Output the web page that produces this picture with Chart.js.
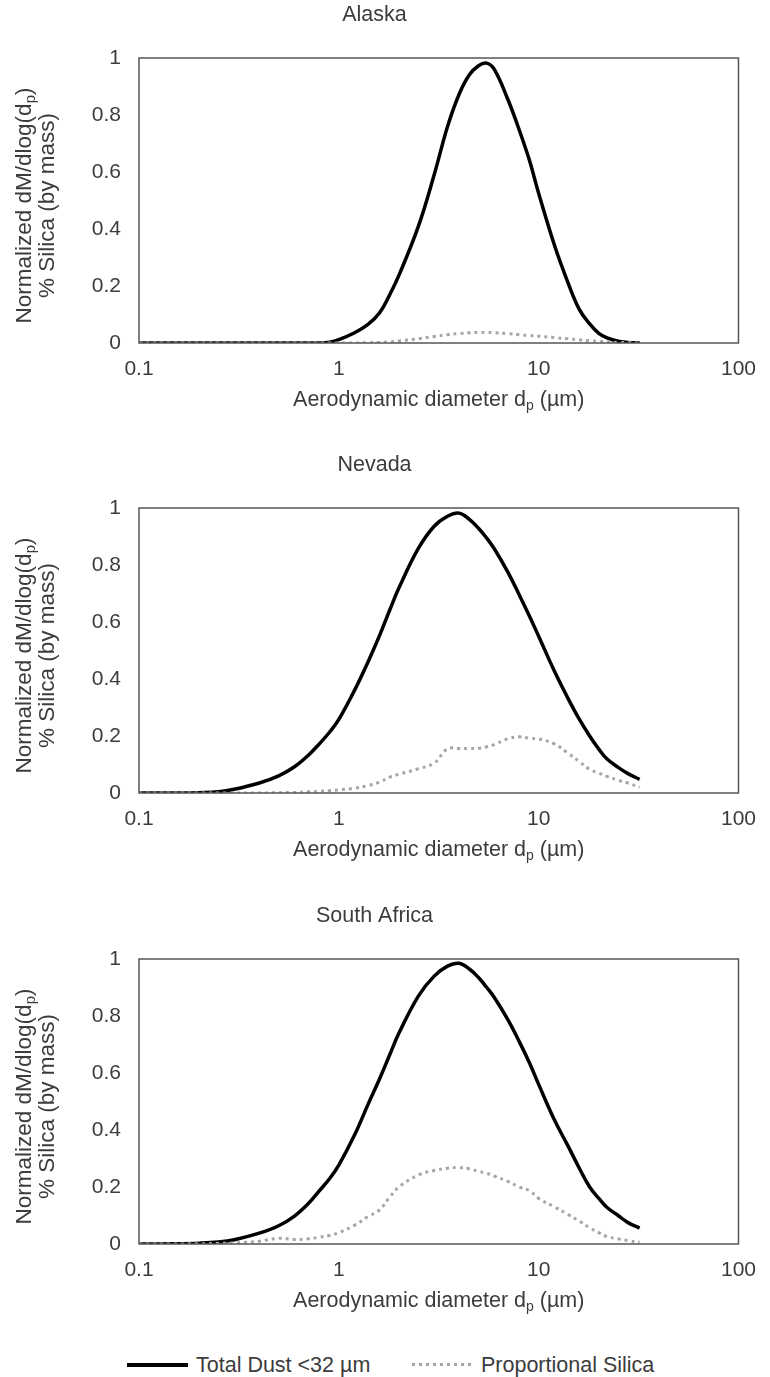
<!DOCTYPE html>
<html>
<head>
<meta charset="utf-8">
<script src="https://cdn.jsdelivr.net/npm/chart.js@4/dist/chart.umd.min.js"></script>
<style>
  body { margin: 0; background: #fff; }
  .panel { position: absolute; left: 0; }
  .legend { position: absolute; left: 0; top: 1352px; width: 770px; height: 26px;
            font: 21.5px "Liberation Sans", Arial, sans-serif; color: #3c3c3c; }
  .legend .key { position: absolute; top: 11px; width: 61px; height: 3.5px; }
  .legend .label { position: absolute; top: 0px; line-height: 26px; white-space: nowrap; }
  .solid { background: #000; }
  .dotted { background: repeating-linear-gradient(90deg, #a6a6a6 0 3px, transparent 3px 7px); height: 3px !important; }
</style>
</head>
<body>
<canvas id="alaska" class="panel" width="770" height="450" style="top:0px"></canvas>
<canvas id="nevada" class="panel" width="770" height="450" style="top:450px"></canvas>
<canvas id="southAfrica" class="panel" width="770" height="450" style="top:901px"></canvas>
<div class="legend">
  <div class="key solid" style="left:127px"></div>
  <div class="label" id="leg0" style="left:196px"></div>
  <div class="key dotted" style="left:412px"></div>
  <div class="label" id="leg1" style="left:481px"></div>
</div>
<script>
// aerodynamic diameter (µm)
const diameters = [0.1, 0.15, 0.2, 0.25, 0.3, 0.4, 0.5, 0.6, 0.7, 0.8, 0.9, 1.0,
  1.2, 1.4, 1.6, 1.8, 2.0, 2.5, 3.0, 3.5, 4.0, 4.5, 5.0, 5.5, 6.0, 7.0, 8.0, 9.0,
  10, 12, 14, 16, 18, 20, 22, 25, 28, 32];

const alaskaTotal = [0, 0, 0, 0, 0, 0, 0, 0, 0, 0, 0.003, 0.012,
  0.036, 0.065, 0.106, 0.17, 0.238, 0.409, 0.59, 0.76, 0.873, 0.941, 0.973, 0.982, 0.96, 0.856, 0.747, 0.64,
  0.525, 0.343, 0.213, 0.117, 0.067, 0.034, 0.018, 0.006, 0.002, 0];
const alaskaSilica = [0, 0, 0, 0, 0, 0, 0, 0, 0, 0, 0, 0,
  0, 0.001, 0.002, 0.004, 0.007, 0.015, 0.023, 0.029, 0.033, 0.036, 0.037, 0.037, 0.036, 0.033, 0.029, 0.026,
  0.024, 0.019, 0.015, 0.011, 0.008, 0.006, 0.004, 0.002, 0.001, 0];

const nevadaTotal = [0, 0, 0.001, 0.004, 0.013, 0.035, 0.06, 0.092, 0.131, 0.173, 0.214, 0.258,
  0.361, 0.46, 0.553, 0.643, 0.72, 0.858, 0.936, 0.971, 0.982, 0.96, 0.929, 0.894, 0.857, 0.776, 0.695, 0.62,
  0.55, 0.427, 0.333, 0.258, 0.2, 0.154, 0.119, 0.09, 0.068, 0.048];
const nevadaSilica = [0, 0, 0, 0, 0, 0, 0.001, 0.002, 0.004, 0.006, 0.008, 0.011,
  0.017, 0.026, 0.038, 0.056, 0.066, 0.085, 0.105, 0.155, 0.156, 0.156, 0.157, 0.162, 0.17, 0.19, 0.197, 0.192,
  0.19, 0.172, 0.14, 0.11, 0.083, 0.07, 0.058, 0.045, 0.035, 0.02];

const southAfricaTotal = [0, 0.001, 0.003, 0.007, 0.015, 0.038, 0.064, 0.098, 0.14, 0.187, 0.23, 0.277,
  0.383, 0.49, 0.58, 0.665, 0.74, 0.87, 0.94, 0.975, 0.985, 0.965, 0.935, 0.9, 0.865, 0.788, 0.71, 0.635,
  0.56, 0.435, 0.345, 0.265, 0.2, 0.16, 0.128, 0.1, 0.075, 0.056];
const southAfricaSilica = [0, 0, 0.001, 0.002, 0.004, 0.01, 0.02, 0.016, 0.018, 0.024, 0.03, 0.04,
  0.066, 0.096, 0.12, 0.165, 0.2, 0.242, 0.258, 0.266, 0.268, 0.264, 0.255, 0.248, 0.238, 0.22, 0.2, 0.187,
  0.16, 0.13, 0.104, 0.08, 0.057, 0.04, 0.026, 0.018, 0.012, 0.006];

const xTickValues = [0.1, 1, 10, 100];
const xTickLabels = ["0.1", "1", "10", "100"];
const yTickValues = [0, 0.2, 0.4, 0.6, 0.8, 1];
const yTickLabels = ["0", "0.2", "0.4", "0.6", "0.8", "1"];
const seriesNames = ["Total Dust <32 µm", "Proportional Silica"];

const FONT = '"Liberation Sans", Arial, sans-serif';
const TEXT = "#3c3c3c";

document.getElementById("leg0").textContent = seriesNames[0];
document.getElementById("leg1").textContent = seriesNames[1];

// text with a subscript part, centred on (cx, cy)
function drawRich(ctx, parts, cx, cy, size) {
  const big = size + "px " + FONT, small = Math.round(size * 0.65) + "px " + FONT;
  let total = 0;
  parts.forEach(p => { ctx.font = p.sub ? small : big; total += ctx.measureText(p.t).width; });
  let x = cx - total / 2;
  ctx.textAlign = "left";
  ctx.textBaseline = "middle";
  parts.forEach(p => {
    ctx.font = p.sub ? small : big;
    ctx.fillText(p.t, x, p.sub ? cy + 6 : cy);
    x += ctx.measureText(p.t).width;
  });
}

const framePlugin = {
  id: "frame",
  afterDraw(chart) {
    const { ctx, chartArea: a } = chart;
    ctx.save();
    ctx.strokeStyle = "#555";
    ctx.lineWidth = 1.5;
    ctx.strokeRect(a.left, a.top, a.right - a.left, a.bottom - a.top);

    ctx.fillStyle = TEXT;
    const midX = (a.left + a.right) / 2;
    drawRich(ctx, [{ t: "Aerodynamic diameter d" }, { t: "p", sub: true }, { t: " (µm)" }], midX, a.bottom + 57, 21.5);

    ctx.translate(0, (a.top + a.bottom) / 2 + 5);
    ctx.rotate(-Math.PI / 2);
    drawRich(ctx, [{ t: "Normalized dM/dlog(d" }, { t: "p", sub: true }, { t: ")" }], 0, 25, 22.5);
    drawRich(ctx, [{ t: "% Silica (by mass)" }], 0, 48, 22.5);
    ctx.restore();
  }
};

function points(values) {
  return diameters.map((d, i) => ({ x: d, y: values[i] }));
}

function makePanel(id, title, total, silica) {
  return new Chart(document.getElementById(id), {
    type: "line",
    data: {
      datasets: [
        {
          label: seriesNames[0],
          data: points(total),
          borderColor: "#000",
          borderWidth: 3.5,
          pointRadius: 0,
          tension: 0.4,
          order: 1
        },
        {
          label: seriesNames[1],
          data: points(silica),
          borderColor: "#a6a6a6",
          borderWidth: 3,
          borderDash: [3, 4],
          borderCapStyle: "butt",
          pointRadius: 0,
          tension: 0.4,
          order: 0
        }
      ]
    },
    options: {
      responsive: false,
      animation: false,
      layout: { padding: { left: 0, right: 21, top: 0, bottom: 0 } },
      plugins: {
        legend: { display: false },
        tooltip: { enabled: false },
        title: {
          display: true,
          text: title,
          color: TEXT,
          font: { family: FONT, size: 21.5, weight: "normal" },
          padding: { top: 2, bottom: 30.2 }
        }
      },
      scales: {
        x: {
          type: "logarithmic",
          min: 0.1,
          max: 100,
          grid: { display: false, drawTicks: false },
          border: { display: false },
          afterBuildTicks: s => { s.ticks = xTickValues.map(v => ({ value: v })); },
          afterFit: s => { s.height = 107; },
          ticks: {
            autoSkip: false,
            maxRotation: 0,
            padding: 14,
            color: TEXT,
            font: { family: FONT, size: 21 },
            callback: (v) => xTickLabels[xTickValues.indexOf(v)]
          }
        },
        y: {
          min: 0,
          max: 1,
          grid: { display: false, drawTicks: false },
          border: { display: false },
          afterBuildTicks: s => { s.ticks = yTickValues.map(v => ({ value: v })); },
          afterFit: s => { s.width = 139; },
          ticks: {
            padding: 18,
            color: TEXT,
            font: { family: FONT, size: 21 },
            callback: (v) => yTickLabels[yTickValues.indexOf(v)]
          }
        }
      }
    },
    plugins: [framePlugin]
  });
}

makePanel("alaska", "Alaska", alaskaTotal, alaskaSilica);
makePanel("nevada", "Nevada", nevadaTotal, nevadaSilica);
makePanel("southAfrica", "South Africa", southAfricaTotal, southAfricaSilica);
</script>
</body>
</html>
